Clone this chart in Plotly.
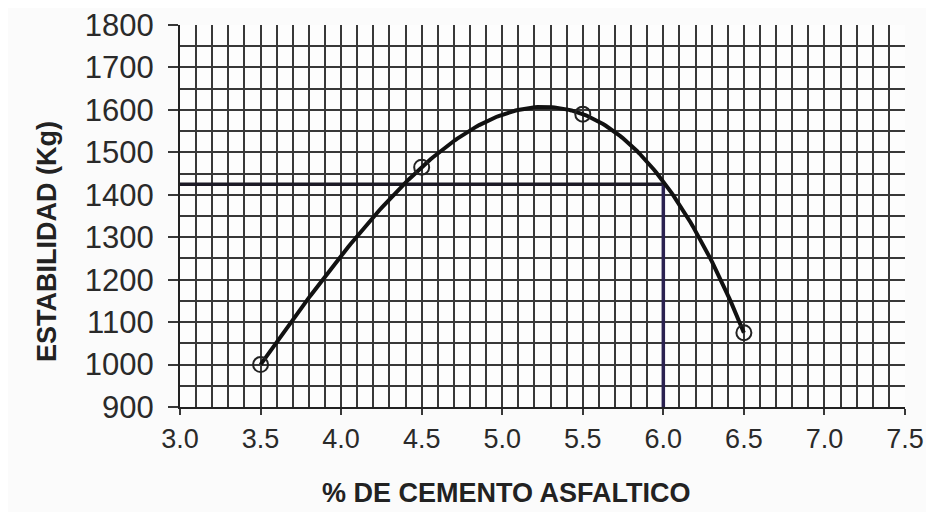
import numpy as np
import plotly.graph_objects as go

# Data
cemento = [3.5, 4.5, 5.5, 6.5]          # % de cemento asfáltico
estabilidad = [1000, 1465, 1590, 1075]  # Kg
optimo_x = 6.0
optimo_y = 1425

x_ticks = [3.0, 3.5, 4.0, 4.5, 5.0, 5.5, 6.0, 6.5, 7.0, 7.5]
y_ticks = [900, 1000, 1100, 1200, 1300, 1400, 1500, 1600, 1700, 1800]

# cubic trend curve through the measured points
coef = np.polyfit(cemento, estabilidad, 3)
xc = np.linspace(min(cemento), max(cemento), 200)
yc = np.polyval(coef, xc)

fig = go.Figure()
fig.add_trace(go.Scatter(x=[x_ticks[0], optimo_x], y=[optimo_y, optimo_y], mode="lines",
                         line=dict(color="#1c1a26", width=3.5), hoverinfo="skip"))
fig.add_trace(go.Scatter(x=[optimo_x, optimo_x], y=[optimo_y, y_ticks[0]], mode="lines",
                         line=dict(color="#2a2150", width=3.5), hoverinfo="skip"))
fig.add_trace(go.Scatter(x=xc, y=yc, mode="lines", line=dict(color="#111111", width=4)))
fig.add_trace(go.Scatter(x=cemento, y=estabilidad, mode="markers",
                         marker=dict(symbol="circle-open", size=15, color="#222222",
                                     line=dict(width=2))))

grid_col = "#383838"
font_fam = "Liberation Sans, Arial, sans-serif"
fig.update_layout(
    width=918, height=504,
    margin=dict(l=172, r=21, t=17, b=105),
    paper_bgcolor="#fbfbfb", plot_bgcolor="#fdfdfd",
    showlegend=False,
    font=dict(family=font_fam, color="#222222"),
    annotations=[
        dict(text="<b>% DE CEMENTO ASFALTICO</b>", xref="paper", yref="paper",
             x=0.451, y=-0.225, xanchor="center", yanchor="middle", showarrow=False,
             font=dict(size=27, color="#222")),
        dict(text="<b>ESTABILIDAD (Kg)</b>", xref="paper", yref="paper",
             x=-0.1834, y=0.432, xanchor="center", yanchor="middle", showarrow=False,
             textangle=-90, font=dict(size=27, color="#222")),
    ],
)
fig.update_xaxes(
    range=[3.0, 7.5], tickvals=x_ticks, ticktext=[f"{v:.1f}" for v in x_ticks],
    tickfont=dict(size=27, color="#2a2a2a"), automargin=False, ticklabeloverflow="allow",
    ticks="outside", ticklen=6, tickcolor=grid_col, tickwidth=1.8,
    showgrid=True, gridcolor=grid_col, gridwidth=1.8,
    minor=dict(dtick=0.1, showgrid=True, gridcolor=grid_col, gridwidth=1.6),
    showline=True, linecolor="#222", linewidth=2.2, zeroline=False,
)
fig.update_yaxes(
    range=[900, 1800], tickvals=y_ticks,
    tickfont=dict(size=31, color="#2a2a2a"), automargin=False, ticklabeloverflow="allow",
    ticks="outside", ticklen=10, tickcolor=grid_col, tickwidth=1.8,
    ticklabelstandoff=8,
    showgrid=True, gridcolor=grid_col, gridwidth=1.8,
    minor=dict(dtick=50, showgrid=True, gridcolor=grid_col, gridwidth=1.6),
    showline=True, linecolor="#222", linewidth=2.2, zeroline=False,
)
fig.write_html("out.html")
